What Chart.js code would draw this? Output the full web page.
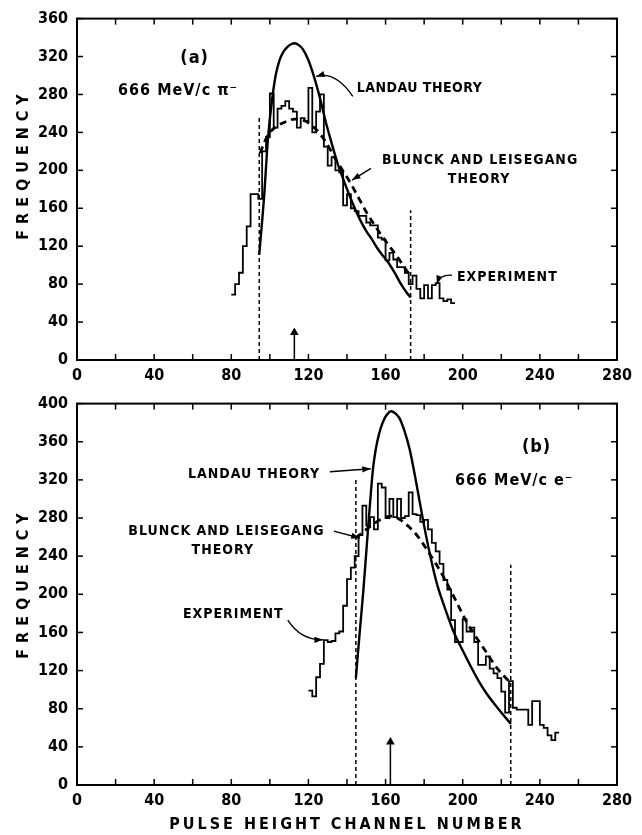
<!DOCTYPE html>
<html>
<head>
<meta charset="utf-8">
<script src="https://cdn.jsdelivr.net/npm/chart.js@4"></script>
<style>
  body { margin: 0; background: #fff; }
  #caixa { position: relative; width: 642px; height: 835px; }
  canvas { position: absolute; left: 0; }
  #grafA { top: 0; }
  #grafB { top: 385px; }
</style>
</head>
<body>
<div id="caixa">
  <canvas id="grafA" width="642" height="385"></canvas>
  <canvas id="grafB" width="642" height="450"></canvas>
</div>
<script>
//Fontes
const FAMILIA = "'DejaVu Sans Condensed', 'DejaVu Sans', sans-serif";
const FONTE_NOTA = "bold 14px " + FAMILIA;

//Painel (a) - histograma do experimento (inicio de cada canal, ultimo = fim)
const canaisA = [80, 82, 84, 86, 88, 90, 92, 94, 96, 98, 100, 102, 104, 106, 108, 110, 112, 114, 116, 118,
  120, 122, 124, 126, 128, 130, 132, 134, 136, 138, 140, 142, 144, 146, 148, 150, 152, 154, 156, 158,
  160, 162, 164, 166, 168, 170, 172, 174, 176, 178, 180, 182, 184, 186, 188, 190, 192, 194, 196];
const freqA = [69, 80, 92, 120, 141, 175, 175, 170, 220, 235, 281, 245, 265, 268, 273, 265, 262, 245, 255, 252,
  287, 240, 262, 280, 225, 205, 214, 200, 198, 163, 175, 160, 157, 152, 152, 145, 142, 142, 129, 127,
  105, 113, 106, 98, 98, 92, 80, 89, 75, 65, 79, 65, 79, 81, 65, 62, 64, 60];
//Painel (a) - curvas teoricas
const landauAx = [94.5, 97, 99, 101, 103, 105, 107, 109, 111, 113, 115, 117, 120, 123, 126, 129, 132, 135,
  138, 141, 144, 147, 150, 153, 156, 159, 162, 165, 168, 171, 173];
const landauAy = [111, 172, 233, 272, 300, 316, 325, 330, 333, 334, 332, 328, 316, 298, 276, 251, 229, 208,
  191, 175, 160, 147, 136, 127, 117, 109, 101, 91, 80, 71, 66];
const blunckAx = [95, 97, 100, 104, 108, 113, 117, 120, 124, 129, 134, 138, 142, 146, 150, 154, 158, 162, 166, 170, 173];
const blunckAy = [218, 229, 240, 247, 251, 254, 253, 250, 243, 230, 212, 199, 186, 171, 156, 143, 131, 120, 109, 97, 88];
const cortesA = [94.5, 173];
const cortesTopoA = [258, 158];
const setaA = 112.7;
const setaTopoA = 29;

//Painel (b)
const canaisB = [120, 122, 124, 126, 128, 130, 132, 134, 136, 138, 140, 142, 144, 146, 148, 150, 152, 154, 156, 158,
  160, 162, 164, 166, 168, 170, 172, 174, 176, 178, 180, 182, 184, 186, 188, 190, 192, 194, 196, 198,
  200, 202, 204, 206, 208, 210, 212, 214, 216, 218, 220, 222, 224, 226, 228, 230, 232, 234, 236, 238,
  240, 242, 244, 246, 248, 250];
const freqB = [99, 93, 113, 127, 152, 150, 151, 159, 161, 188, 216, 228, 240, 262, 293, 272, 281, 268, 316, 312,
  280, 300, 281, 300, 280, 282, 307, 284, 283, 276, 278, 268, 254, 245, 232, 215, 205, 173, 150, 150,
  174, 161, 165, 150, 126, 126, 135, 122, 117, 112, 98, 76, 109, 81, 79, 79, 79, 63, 88, 88,
  63, 60, 52, 47, 55];
const landauBx = [144.6, 146.5, 148.4, 150.1, 152, 153.5, 155, 156.6, 158.5, 160.2, 163, 165.5, 167.4, 170,
  172.5, 176, 179.5, 183, 186.5, 190, 195, 200, 204, 208, 212, 218, 225];
const landauBy = [112, 158, 202, 247, 297, 332, 353, 368, 380, 387, 392, 389, 384, 370,
  352, 316, 277, 242, 212, 190, 162, 141, 125, 110, 97, 81, 64];
const blunckBx = [144.6, 150, 157, 163, 167, 172, 177, 182, 187, 192, 197, 202, 206, 212, 218, 224.9];
const blunckBy = [259, 268, 278, 282, 279, 271, 260, 245, 229, 211, 191, 171, 158, 140, 122, 107];
const cortesB = [144.6, 224.9];
const cortesTopoB = [321, 231];
const setaB = 162.5;
const setaTopoB = 45;

//Desenha moldura, tracinhos, textos e setas
const notas = {
  id: 'notas',
  afterDraw(chart, args, o) {
    const { ctx, chartArea: a, scales: { x, y } } = chart;
    const px = v => x.getPixelForValue(v);
    const py = v => y.getPixelForValue(v);
    const linha = (x0, y0, x1, y1) => { ctx.beginPath(); ctx.moveTo(x0, y0); ctx.lineTo(x1, y1); ctx.stroke(); };
    ctx.save();
    ctx.strokeStyle = '#000';
    ctx.fillStyle = '#000';
    ctx.lineWidth = 2;
    ctx.strokeRect(a.left, a.top, a.right - a.left, a.bottom - a.top);
    ctx.lineWidth = 1.5;
    x.ticks.forEach(t => {
      linha(px(t.value), a.bottom, px(t.value), a.bottom - 6);
      linha(px(t.value), a.top, px(t.value), a.top + 6);
    });
    y.ticks.forEach(t => {
      linha(a.left, py(t.value), a.left + 6, py(t.value));
      linha(a.right, py(t.value), a.right - 6, py(t.value));
    });
    //textos
    ctx.textBaseline = 'middle';
    o.textos.forEach(t => {
      ctx.font = t.fonte || FONTE_NOTA;
      ctx.letterSpacing = t.esp || '1px';
      ctx.textAlign = t.alinha || 'left';
      ctx.fillText(t.txt, px(t.x), py(t.y));
    });
    //setas
    ctx.lineWidth = 1.4;
    o.setas.forEach(s => {
      const x0 = px(s.de[0]), y0 = py(s.de[1]);
      const x1 = px(s.ate[0]), y1 = py(s.ate[1]);
      const c = s.ctrl ? [px(s.ctrl[0]), py(s.ctrl[1])] : [(x0 + x1) / 2, (y0 + y1) / 2];
      ctx.beginPath();
      ctx.moveTo(x0, y0);
      ctx.quadraticCurveTo(c[0], c[1], x1, y1);
      ctx.stroke();
      const ang = Math.atan2(y1 - c[1], x1 - c[0]);
      ctx.beginPath();
      ctx.moveTo(x1, y1);
      ctx.lineTo(x1 - 9 * Math.cos(ang - 0.35), y1 - 9 * Math.sin(ang - 0.35));
      ctx.lineTo(x1 - 9 * Math.cos(ang + 0.35), y1 - 9 * Math.sin(ang + 0.35));
      ctx.closePath();
      ctx.fill();
    });
    //titulos dos eixos
    ctx.font = "bold 16px " + FAMILIA;
    ctx.letterSpacing = '6px';
    ctx.textAlign = 'center';
    ctx.save();
    ctx.translate(24, o.tituloY);
    ctx.rotate(-Math.PI / 2);
    ctx.fillText('FREQUENCY', 3, 0);
    ctx.restore();
    if (o.tituloX) {
      ctx.font = "bold 16px " + FAMILIA;
      ctx.letterSpacing = '3px';
      ctx.fillText('PULSE HEIGHT CHANNEL NUMBER', (a.left + a.right) / 2, o.tituloX);
    }
    ctx.restore();
  }
};

function pontos(xs, ys) {
  return xs.map((v, i) => ({ x: v, y: ys[i] }));
}

function montaGrafico(id, p) {
  //histograma em degraus: o ultimo canal fecha a barra
  const hist = p.canais.map((c, i) => ({ x: c, y: p.freq[Math.min(i, p.freq.length - 1)] }));

  const datasets = [
    {
      data: hist,
      stepped: 'before',
      borderColor: '#000',
      borderWidth: 1.8,
      pointRadius: 0
    },
    {
      data: pontos(p.landauX, p.landauY),
      borderColor: '#000',
      borderWidth: 2.4,
      cubicInterpolationMode: 'monotone',
      pointRadius: 0
    },
    {
      data: pontos(p.blunckX, p.blunckY),
      borderColor: '#000',
      borderWidth: 2.8,
      borderDash: [7, 5],
      cubicInterpolationMode: 'monotone',
      pointRadius: 0
    }
  ];
  p.cortes.forEach((c, i) => {
    datasets.push({
      data: [{ x: c, y: 0 }, { x: c, y: p.cortesTopo[i] }],
      borderColor: '#000',
      borderWidth: 1.5,
      borderDash: [4, 3],
      pointRadius: 0
    });
  });
  //seta vertical no pico
  datasets.push({
    data: [{ x: p.seta, y: 0 }, { x: p.seta, y: p.setaTopo }],
    borderColor: '#000',
    backgroundColor: '#000',
    borderWidth: 1.5,
    pointStyle: 'triangle',
    pointRadius: [0, 5],
    pointBorderWidth: 0
  });

  return new Chart(document.getElementById(id), {
    type: 'line',
    data: { datasets },
    options: {
      responsive: false,
      animation: false,
      layout: { padding: { left: 0, right: 25, top: p.topo, bottom: 0 } },
      scales: {
        x: {
          type: 'linear',
          min: 0,
          max: 280,
          afterFit: s => { s.height = p.alturaX; },
          grid: { display: false, drawTicks: false },
          border: { display: false },
          ticks: {
            stepSize: 20,
            autoSkip: false,
            maxRotation: 0,
            padding: 6,
            color: '#000',
            font: { family: FAMILIA, size: 16, weight: 'bold' },
            callback: v => (v % 40 === 0 ? v : '')
          }
        },
        y: {
          min: 0,
          max: p.ymax,
          afterFit: s => { s.width = 77; },
          grid: { display: false, drawTicks: false },
          border: { display: false },
          ticks: {
            stepSize: 40,
            padding: 9,
            color: '#000',
            font: { family: FAMILIA, size: 16, weight: 'bold' }
          }
        }
      },
      plugins: {
        legend: { display: false },
        tooltip: { enabled: false },
        notas: {
          textos: p.textos,
          setas: p.setas,
          tituloY: p.tituloY,
          tituloX: p.tituloX
        }
      }
    },
    plugins: [notas]
  });
}

montaGrafico('grafA', {
  canais: canaisA, freq: freqA,
  landauX: landauAx, landauY: landauAy,
  blunckX: blunckAx, blunckY: blunckAy,
  cortes: cortesA, cortesTopo: cortesTopoA,
  seta: setaA, setaTopo: setaTopoA,
  ymax: 360, topo: 11, alturaX: 25, tituloY: 167,
  textos: [
    { txt: '(a)', x: 61, y: 318, alinha: 'center', fonte: 'bold 18px ' + FAMILIA },
    { txt: '666 MeV/c \u03c0\u207b', x: 21.3, y: 284, fonte: 'bold 16px ' + FAMILIA },
    { txt: 'LANDAU THEORY', x: 145, y: 286, esp: '0.5px' },
    { txt: 'BLUNCK AND LEISEGANG', x: 209, y: 211, alinha: 'center' },
    { txt: 'THEORY', x: 208.5, y: 190, alinha: 'center' },
    { txt: 'EXPERIMENT', x: 197, y: 87 }
  ],
  setas: [
    { de: [143, 278], ate: [124, 299], ctrl: [134, 305] },
    { de: [152.4, 202], ate: [142.6, 189.7] },
    { de: [194.4, 89.4], ate: [186.6, 80.1], ctrl: [188.2, 90.4] }
  ]
});

montaGrafico('grafB', {
  canais: canaisB, freq: freqB,
  landauX: landauBx, landauY: landauBy,
  blunckX: blunckBx, blunckY: blunckBy,
  cortes: cortesB, cortesTopo: cortesTopoB,
  seta: setaB, setaTopo: setaTopoB,
  ymax: 400, topo: 14, alturaX: 50, tituloY: 201, tituloX: 440,
  textos: [
    { txt: '(b)', x: 238.3, y: 354, alinha: 'center', fonte: 'bold 18px ' + FAMILIA },
    { txt: '666 MeV/c e\u207b', x: 196, y: 319, fonte: 'bold 16px ' + FAMILIA },
    { txt: 'LANDAU THEORY', x: 57.5, y: 326 },
    { txt: 'BLUNCK AND LEISEGANG', x: 77.5, y: 266, alinha: 'center' },
    { txt: 'THEORY', x: 75.6, y: 246.6, alinha: 'center' },
    { txt: 'EXPERIMENT', x: 54.9, y: 179 }
  ],
  setas: [
    { de: [131.1, 328.5], ate: [152.3, 331.6] },
    { de: [133.2, 266.3], ate: [146.6, 259] },
    { de: [109.3, 173], ate: [127.5, 152.3], ctrl: [116, 152] }
  ]
});
</script>
</body>
</html>
